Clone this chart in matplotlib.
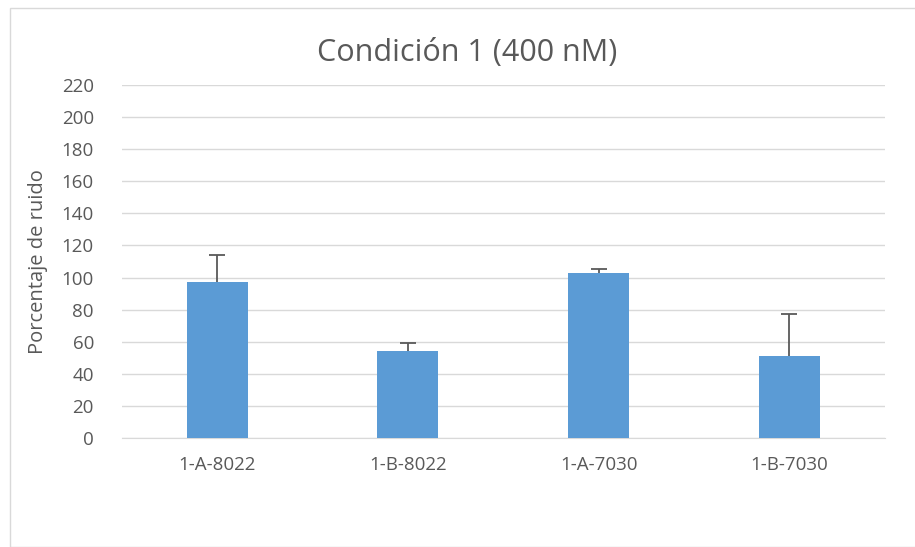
import matplotlib.pyplot as plt
from matplotlib.patches import Rectangle

plt.rcParams['font.family'] = ['Open Sans', 'DejaVu Sans']

# data
labels = ['1-A-8022', '1-B-8022', '1-A-7030', '1-B-7030']
values = [97, 54, 103, 51]
errors = [17, 5.5, 2.5, 26]
yticks = list(range(0, 221, 20))

grey = '#595959'

fig = plt.figure(figsize=(9.15, 5.47), dpi=100)
fig.patches.append(Rectangle((10 / 915, 0), 1, 1 - 8 / 547, transform=fig.transFigure,
                             fill=False, edgecolor='#d9d9d9', linewidth=1))
ax = fig.add_axes([0.133, 0.199, 0.834, 0.646])

x = range(len(labels))
# error bars behind the bars so only the upper half shows
ax.bar(x, values, width=0.32, color='#5b9bd5', zorder=3)
ax.errorbar(x, values, yerr=errors, fmt='none',
            ecolor=grey, elinewidth=1.3, capsize=6, capthick=1.3, zorder=2)

ax.set_xlim(-0.5, len(labels) - 0.5)
ax.set_ylim(0, 220)
ax.set_yticks(yticks)
ax.set_xticks(list(x))
ax.set_xticklabels(labels)
ax.yaxis.grid(True, color='#d9d9d9', linewidth=1)
ax.set_axisbelow(True)
for s in ['top', 'right', 'left']:
    ax.spines[s].set_visible(False)
ax.spines['bottom'].set_color('#d9d9d9')
ax.tick_params(axis='both', length=0, colors=grey, labelsize=13.5)
ax.tick_params(axis='x', pad=13)
ax.tick_params(axis='y', pad=20)

ax.set_ylabel('Porcentaje de ruido', color=grey, fontsize=14.5, labelpad=10)
fig.text(0.511, 0.903, 'Condición 1 (400 nM)', ha='center', va='center',
         color=grey, fontsize=22)

fig.savefig('out.png', dpi=100)
